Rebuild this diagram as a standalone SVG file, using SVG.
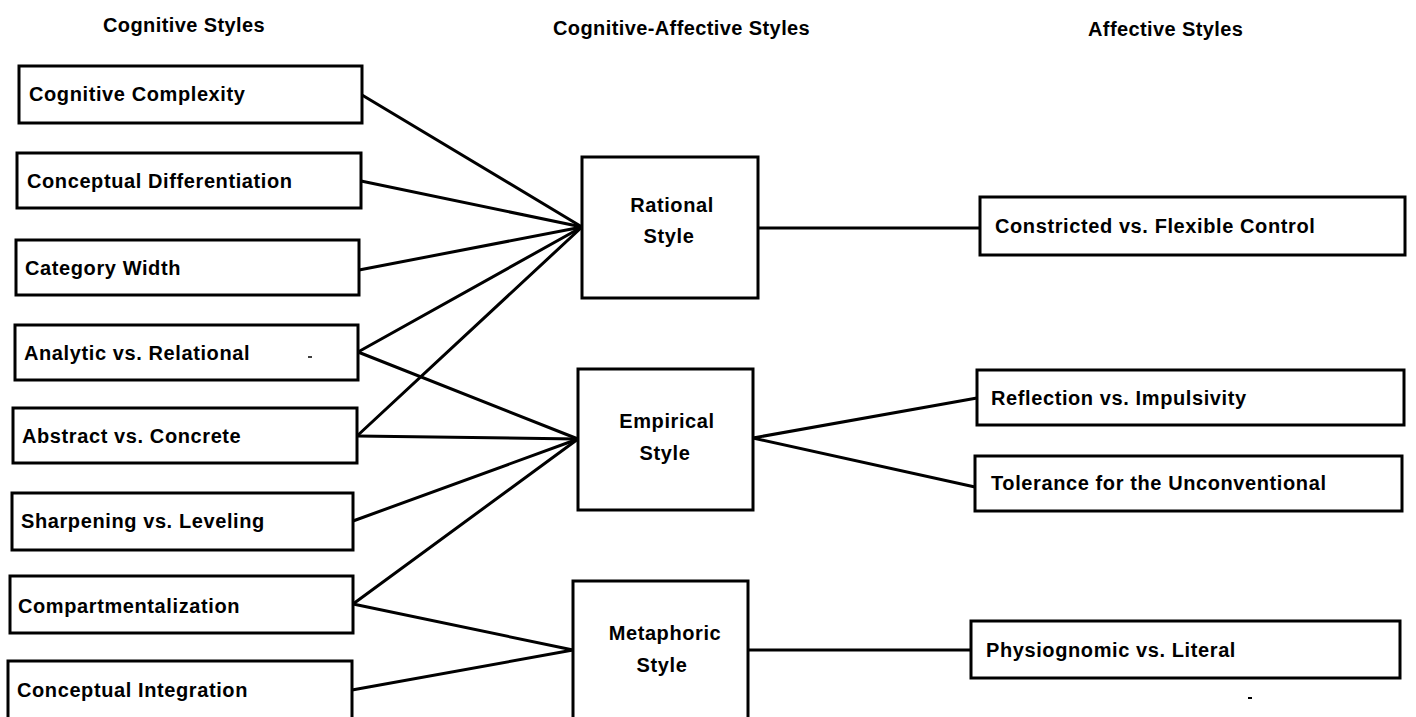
<svg xmlns="http://www.w3.org/2000/svg" width="1416" height="717" viewBox="0 0 1416 717">
<style>
  .box { fill: #fff; stroke: #000; stroke-width: 3; }
  .t { font-family: "Liberation Sans", Arial, sans-serif; font-weight: bold; font-size: 20px; letter-spacing: 0.6px; fill: #000; }
  .h { font-family: "Liberation Sans", Arial, sans-serif; font-weight: bold; font-size: 20px; letter-spacing: 0.4px; fill: #000; }
  .c { text-anchor: middle; }
  .ln { stroke: #000; stroke-width: 3; fill: none; stroke-linecap: round; }
</style>
<rect width="1416" height="717" fill="#fff"/>
<g id="headers">
  <text class="h" x="103" y="32">Cognitive Styles</text>
  <text class="h" x="553" y="35">Cognitive-Affective Styles</text>
  <text class="h" x="1088" y="36">Affective Styles</text>
</g>
<g id="connectors">
  <line class="ln" x1="362" y1="95" x2="582" y2="227"/>
  <line class="ln" x1="361" y1="181" x2="582" y2="227"/>
  <line class="ln" x1="359" y1="270" x2="582" y2="227"/>
  <line class="ln" x1="358" y1="352" x2="582" y2="227"/>
  <line class="ln" x1="357" y1="436" x2="582" y2="227"/>
  <line class="ln" x1="358" y1="352" x2="578" y2="439"/>
  <line class="ln" x1="357" y1="436" x2="578" y2="439"/>
  <line class="ln" x1="353" y1="521" x2="578" y2="439"/>
  <line class="ln" x1="353" y1="604" x2="578" y2="439"/>
  <line class="ln" x1="353" y1="604" x2="573" y2="650"/>
  <line class="ln" x1="352" y1="690" x2="573" y2="650"/>
  <line class="ln" x1="758" y1="228" x2="980" y2="228"/>
  <line class="ln" x1="753" y1="438" x2="977" y2="398"/>
  <line class="ln" x1="753" y1="438" x2="975" y2="487"/>
  <line class="ln" x1="748" y1="650" x2="971" y2="650"/>
</g>
<g id="n-cognitive-complexity">
  <rect class="box" x="19" y="66" width="343" height="57"/>
  <text class="t" x="29" y="101">Cognitive Complexity</text>
</g>
<g id="n-conceptual-differentiation">
  <rect class="box" x="17" y="153" width="344" height="55"/>
  <text class="t" x="27" y="188">Conceptual Differentiation</text>
</g>
<g id="n-category-width">
  <rect class="box" x="16" y="240" width="343" height="55"/>
  <text class="t" x="25" y="275">Category Width</text>
</g>
<g id="n-analytic-relational">
  <rect class="box" x="15" y="325" width="343" height="55"/>
  <text class="t" x="24" y="360">Analytic vs. Relational</text>
  <line x1="308" y1="357" x2="312" y2="357" stroke="#000" stroke-width="1.5"/>
</g>
<g id="n-abstract-concrete">
  <rect class="box" x="13" y="408" width="344" height="55"/>
  <text class="t" x="22" y="443">Abstract vs. Concrete</text>
</g>
<g id="n-sharpening-leveling">
  <rect class="box" x="12" y="493" width="341" height="57"/>
  <text class="t" x="21" y="528">Sharpening vs. Leveling</text>
</g>
<g id="n-compartmentalization">
  <rect class="box" x="10" y="576" width="343" height="57"/>
  <text class="t" x="18" y="613">Compartmentalization</text>
</g>
<g id="n-conceptual-integration">
  <rect class="box" x="8" y="661" width="344" height="60"/>
  <text class="t" x="17" y="697">Conceptual Integration</text>
</g>
<g id="n-rational">
  <rect class="box" x="582" y="157" width="176" height="141"/>
  <text class="t c" x="672" y="212">Rational</text>
  <text class="t c" x="669" y="243">Style</text>
</g>
<g id="n-empirical">
  <rect class="box" x="578" y="369" width="175" height="141"/>
  <text class="t c" x="667" y="428">Empirical</text>
  <text class="t c" x="665" y="460">Style</text>
</g>
<g id="n-metaphoric">
  <rect class="box" x="573" y="581" width="175" height="145"/>
  <text class="t c" x="665" y="640">Metaphoric</text>
  <text class="t c" x="662" y="672">Style</text>
</g>
<g id="n-constricted-flexible">
  <rect class="box" x="980" y="197" width="425" height="58"/>
  <text class="t" x="995" y="233">Constricted vs. Flexible Control</text>
</g>
<g id="n-reflection-impulsivity">
  <rect class="box" x="977" y="370" width="427" height="55"/>
  <text class="t" x="991" y="405">Reflection vs. Impulsivity</text>
</g>
<g id="n-tolerance-unconventional">
  <rect class="box" x="975" y="456" width="427" height="55"/>
  <text class="t" x="991" y="490">Tolerance for the Unconventional</text>
</g>
<g id="n-physiognomic-literal">
  <rect class="box" x="971" y="621" width="429" height="57"/>
  <text class="t" x="986" y="657">Physiognomic vs. Literal</text>
  <line x1="1248" y1="698" x2="1252" y2="698" stroke="#000" stroke-width="2"/>
</g>
</svg>
